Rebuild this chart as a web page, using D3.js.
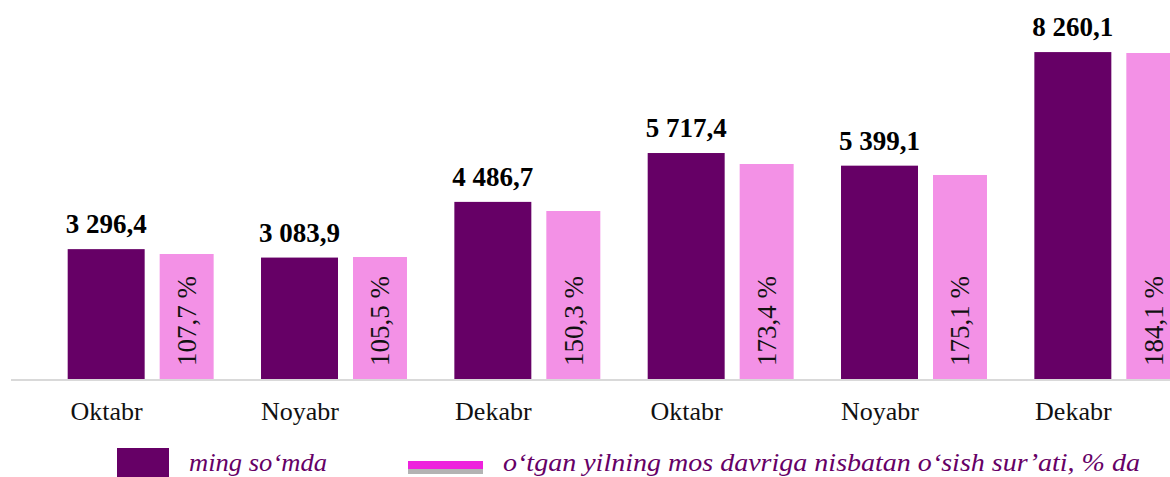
<!DOCTYPE html>
<html>
<head>
<meta charset="utf-8">
<script src="https://cdn.jsdelivr.net/npm/d3@7"></script>
<style>
  body { margin: 0; background: #fff; }
  svg { display: block; }
  text { font-family: "Liberation Serif", "Times New Roman", Times, serif; }
</style>
</head>
<body>
<script>
var months = ["Oktabr", "Noyabr", "Dekabr", "Oktabr", "Noyabr", "Dekabr"];
var amounts = [3296.4, 3083.9, 4486.7, 5717.4, 5399.1, 8260.1];       // ming so'mda
var growth = [107.7, 105.5, 150.3, 173.4, 175.1, 184.1];              // % labels
var growthBarLevel = [3174, 3098, 4257, 5441, 5164, 8237];            // pink bar heights as drawn
var legendLabels = ["ming so‘mda", "o‘tgan yilning mos davriga nisbatan o‘sish sur’ati, % da"];

var width = 1170, height = 477;
var baseY = 380;

var svg = d3.select("body").append("svg")
            .attr("width", width)
            .attr("height", height);

var idx = d3.range(months.length);

var x = d3.scaleBand()
          .domain(idx)
          .range([44, 1204])
          .paddingInner(0.245)
          .paddingOuter(0.1225);

var bw = x.bandwidth();
var darkW = bw * 77 / 146;
var pinkX = bw * 92 / 146;
var pinkW = bw * 54 / 146;

var y = d3.scaleLinear()
          .domain([0, 9572])
          .range([baseY, 0]);

// pink bars
svg.selectAll(".pink")
   .data(idx)
   .enter().append("rect")
   .attr("class", "pink")
   .attr("x", function(i) { return x(i) + pinkX; })
   .attr("y", function(i) { return y(growthBarLevel[i]); })
   .attr("width", pinkW)
   .attr("height", function(i) { return baseY - y(growthBarLevel[i]); })
   .style("fill", "#f391e6");

// dark bars
svg.selectAll(".dark")
   .data(idx)
   .enter().append("rect")
   .attr("class", "dark")
   .attr("x", function(i) { return x(i); })
   .attr("y", function(i) { return y(amounts[i]); })
   .attr("width", darkW)
   .attr("height", function(i) { return baseY - y(amounts[i]); })
   .style("fill", "#660066");

// baseline
svg.append("line")
   .attr("x1", 11).attr("x2", width)
   .attr("y1", baseY).attr("y2", baseY)
   .style("stroke", "#d9d9d9")
   .style("stroke-width", 2);

var fmt = function(v) {
  return d3.format(",.1f")(v).replace(/,/g, " ").replace(".", ",");
};

// value labels above dark bars
svg.selectAll(".val")
   .data(idx)
   .enter().append("text")
   .attr("x", function(i) { return x(i) + darkW / 2; })
   .attr("y", function(i) { return y(amounts[i]) - 16; })
   .attr("text-anchor", "middle")
   .style("font-weight", "bold")
   .style("font-size", "27px")
   .style("fill", "#000")
   .text(function(i) { return fmt(amounts[i]); });

// rotated percentage labels
svg.selectAll(".pct")
   .data(idx)
   .enter().append("text")
   .attr("transform", function(i) {
     return "translate(" + (x(i) + pinkX + pinkW / 2) + "," + (baseY - 14) + ") rotate(-90)";
   })
   .attr("dy", "0.35em")
   .attr("text-anchor", "start")
   .style("font-size", "27px")
   .style("fill", "#111")
   .text(function(i) { return String(growth[i]).replace(".", ",") + " %"; });

// category axis, ticks under dark bars
var xLab = d3.scaleOrdinal()
             .domain(idx)
             .range(idx.map(function(i) { return x(i) + darkW / 2; }));

var axis = svg.append("g")
              .attr("transform", "translate(0," + baseY + ")")
              .call(d3.axisBottom(xLab)
                      .tickSize(0)
                      .tickPadding(40)
                      .tickFormat(function(i) { return months[i]; }));
axis.select(".domain").remove();
axis.attr("font-family", null);
axis.selectAll("text")
    .attr("dy", "0")
    .style("font-size", "26px")
    .style("fill", "#111");

// legend
var leg = svg.append("g");
leg.append("rect")
   .attr("x", 117).attr("y", 448)
   .attr("width", 52).attr("height", 30)
   .style("fill", "#660066");
leg.append("rect")
   .attr("x", 408).attr("y", 461)
   .attr("width", 75).attr("height", 8)
   .style("fill", "#ee22dd");
leg.append("rect")
   .attr("x", 408).attr("y", 469)
   .attr("width", 75).attr("height", 5)
   .style("fill", "#b3b3b3");

var legX = [189, 503], legLen = [138, 637];
leg.selectAll(".legtext")
   .data(legendLabels)
   .enter().append("text")
   .attr("x", function(d, i) { return legX[i]; })
   .attr("y", 471)
   .attr("textLength", function(d, i) { return legLen[i]; })
   .attr("lengthAdjust", "spacingAndGlyphs")
   .style("font-style", "italic")
   .style("font-size", "26px")
   .style("fill", "#660066")
   .text(function(d) { return d; });
</script>
</body>
</html>
